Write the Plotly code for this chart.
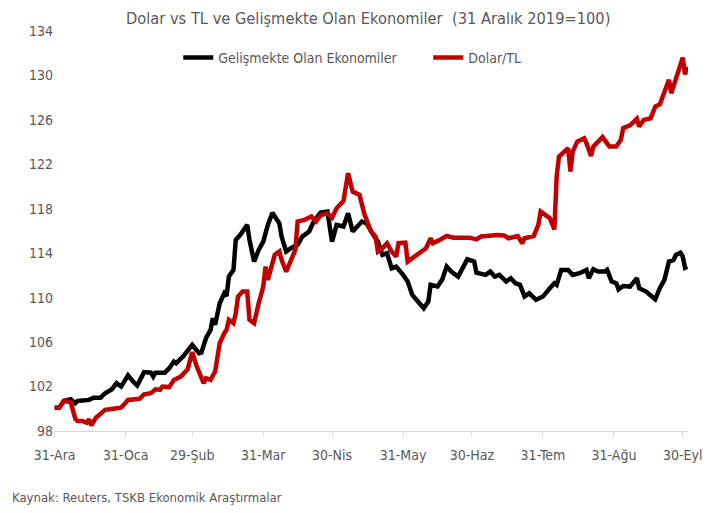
import pandas as pd
import plotly.graph_objects as go

BASE = pd.Timestamp("2019-12-31")

# Gelişmekte Olan Ekonomiler (days since 31 Dec 2019, index value)
em_days = [0, 2, 4, 7, 9, 10, 15, 17, 20, 22, 25, 27, 29, 32, 34, 36, 39, 42, 43, 44,
           48, 50, 52, 53, 56, 58, 60, 63, 64, 66, 68, 69, 70, 72, 74, 75, 76, 78, 79, 81,
           84, 85, 87, 89, 91, 92, 93, 95, 98, 99, 101, 103, 106, 108, 111, 113, 116, 119,
           121, 123, 126, 128, 130, 134, 136, 139, 141, 143, 145, 147, 149, 152, 154, 156,
           159, 161, 163, 164, 167, 169, 171, 173, 176, 178, 180, 183, 184, 188, 190, 192,
           194, 197, 199, 201, 203, 205, 207, 210, 213, 216, 218, 219, 221, 224, 226, 229,
           232, 233, 235, 237, 240, 241, 243, 245, 246, 248, 251, 254, 255, 258, 260, 262,
           264, 266, 268, 270, 271, 273, 274, 275, 276]
em_vals = [100.1, 100.1, 100.7, 100.86, 100.5, 100.7, 100.8, 101.0, 101.0, 101.4, 101.76,
           102.3, 102.0, 103.0, 102.5, 102.1, 103.3, 103.25, 102.9, 103.25, 103.25, 103.65,
           104.25, 104.1, 104.7, 105.2, 105.75, 105.0, 105.05, 106.35, 107.1, 108.15, 107.55,
           109.5, 110.4, 110.15, 111.9, 112.5, 115.2, 115.65, 116.55, 115.2, 113.25, 114.3,
           115.05, 115.8, 116.55, 117.65, 116.7, 115.5, 114.15, 114.45, 114.75, 115.5, 115.95,
           116.85, 117.65, 117.75, 115.05, 116.55, 116.4, 117.6, 115.95, 116.85, 116.7,
           115.65, 115.05, 113.85, 114.0, 112.65, 112.8, 112.05, 111.45, 110.25, 109.5,
           109.05, 109.65, 111.15, 111.0, 111.6, 112.8, 112.35, 111.9, 112.65, 113.45, 113.25,
           112.25, 112.05, 112.35, 111.9, 112.05, 111.45, 111.75, 111.3, 111.15, 110.1, 110.4,
           109.8, 110.1, 110.85, 111.3, 111.15, 112.5, 112.5, 112.05, 112.2, 112.5, 111.75,
           112.55, 112.35, 112.35, 112.5, 111.45, 111.3, 110.75, 111.05, 111.0, 111.75, 110.85,
           110.55, 110.25, 109.85, 110.85, 111.6, 113.25, 113.4, 113.85, 114.05, 113.7, 112.7,
           112.8]

# Dolar/TL
usd_days = [0, 2, 4, 7, 9, 10, 12, 14, 15, 16, 18, 20, 22, 24, 27, 29, 32, 35, 37, 39, 42,
            44, 46, 47, 50, 52, 55, 58, 60, 62, 63, 65, 66, 68, 70, 72, 74, 75, 76, 78, 79,
            80, 82, 84, 85, 87, 89, 91, 92, 93, 95, 96, 98, 99, 101, 103, 105, 106, 109, 112,
            114, 116, 119, 121, 123, 126, 128, 130, 133, 135, 138, 140, 141, 143, 145, 147,
            149, 150, 153, 154, 157, 160, 162, 164, 165, 168, 171, 174, 181, 184, 186, 193,
            196, 198, 202, 204, 205, 209, 211, 212, 214, 216, 218, 219, 220, 222, 224, 225,
            226, 228, 231, 232, 234, 235, 239, 242, 245, 247, 248, 251, 254, 255, 257, 260,
            262, 264, 266, 268, 269, 271, 273, 274, 275, 276]
usd_vals = [100.1, 100.1, 100.7, 100.6, 99.1, 98.9, 98.9, 98.75, 99.05, 98.5, 99.2, 99.5,
            99.9, 99.95, 100.1, 100.1, 100.8, 100.8, 100.9, 101.3, 101.4, 101.75, 101.7, 102.0,
            101.95, 102.6, 102.9, 103.55, 105.1, 103.8, 103.35, 102.3, 102.75, 102.6, 103.35,
            105.9, 106.8, 107.1, 108.0, 107.7, 108.6, 110.1, 110.55, 110.55, 108.0, 107.7,
            109.5, 111.0, 112.8, 111.6, 113.1, 113.85, 114.15, 113.4, 112.35, 113.25, 114.3,
            116.85, 117.0, 117.3, 116.85, 117.4, 117.6, 117.2, 118.05, 118.7, 121.2, 119.55,
            119.25, 117.6, 115.95, 115.5, 114.15, 114.45, 114.9, 114.15, 113.7, 114.9, 114.95,
            113.25, 113.7, 114.15, 114.45, 115.35, 114.9, 115.2, 115.55, 115.4, 115.4, 115.25,
            115.5, 115.65, 115.6, 115.35, 115.55, 114.9, 115.35, 115.55, 116.55, 117.75, 117.45,
            117.15, 116.15, 120.9, 122.7, 123.15, 123.45, 121.35, 123.15, 124.05, 124.35, 123.9,
            122.75, 123.6, 124.45, 123.6, 123.6, 124.2, 125.25, 125.5, 126.1, 125.4, 126.0,
            126.15, 127.2, 127.4, 128.4, 129.6, 128.4, 129.8, 131.2, 131.6, 130.1, 130.8]

tick_dates = ["2019-12-31", "2020-01-31", "2020-02-29", "2020-03-31", "2020-04-30",
              "2020-05-31", "2020-06-30", "2020-07-31", "2020-08-31", "2020-09-30"]
tick_labels = ["31-Ara", "31-Oca", "29-Şub", "31-Mar", "30-Nis",
               "31-May", "30-Haz", "31-Tem", "31-Ağu", "30-Eyl"]
y_ticks = [98, 102, 106, 110, 114, 118, 122, 126, 130, 134]

em_x = BASE + pd.to_timedelta(em_days, unit="D")
usd_x = BASE + pd.to_timedelta(usd_days, unit="D")

FONT = "Liberation Sans Narrow, DejaVu Sans Condensed, Roboto, sans-serif"
GRAY = "#595959"

fig = go.Figure()
fig.add_trace(go.Scatter(x=em_x, y=em_vals, mode="lines", name="Gelişmekte Olan Ekonomiler",
                         line=dict(color="#000000", width=4.5)))
fig.add_trace(go.Scatter(x=usd_x, y=usd_vals, mode="lines", name="Dolar/TL",
                         line=dict(color="#C00000", width=4.5)))

fig.update_layout(
    width=722, height=513,
    margin=dict(l=54, r=34, t=31, b=82),
    paper_bgcolor="white", plot_bgcolor="white",
    font=dict(family=FONT, color=GRAY, size=14),
    title=dict(text="Dolar vs TL ve Gelişmekte Olan Ekonomiler  (31 Aralık 2019=100)",
               x=0.51, xanchor="center", y=0.965, yanchor="middle",
               font=dict(size=16.3, color=GRAY, family=FONT)),
    legend=dict(orientation="h", x=0.196, xanchor="left", y=0.9325, yanchor="middle",
                font=dict(size=14, color=GRAY), bgcolor="rgba(0,0,0,0)",
                entrywidth=205, entrywidthmode="pixels", tracegroupgap=0),
    showlegend=True,
)
fig.update_xaxes(
    type="date",
    range=[BASE - pd.Timedelta(hours=7), BASE + pd.Timedelta(days=276, hours=7)],
    tickmode="array", tickvals=tick_dates, ticktext=tick_labels,
    ticks="outside", ticklen=5, tickcolor="#D9D9D9", tickwidth=1,
    showline=True, linecolor="#D9D9D9", linewidth=1,
    showgrid=False, zeroline=False, ticklabelstandoff=6,
    tickfont=dict(size=14, color=GRAY),
)
fig.update_yaxes(
    range=[98, 134], tickmode="array", tickvals=y_ticks,
    showgrid=False, zeroline=False, showline=False, ticks="",
    tickfont=dict(size=14, color=GRAY),
)
fig.add_annotation(text="Kaynak: Reuters, TSKB Ekonomik Araştırmalar",
                   xref="paper", yref="paper", x=-0.069, y=-0.165,
                   xanchor="left", yanchor="middle", showarrow=False,
                   font=dict(size=13, color=GRAY, family=FONT))

fig.write_html("out.html", config={"displayModeBar": False},
               post_script="document.body.style.margin='0';")
